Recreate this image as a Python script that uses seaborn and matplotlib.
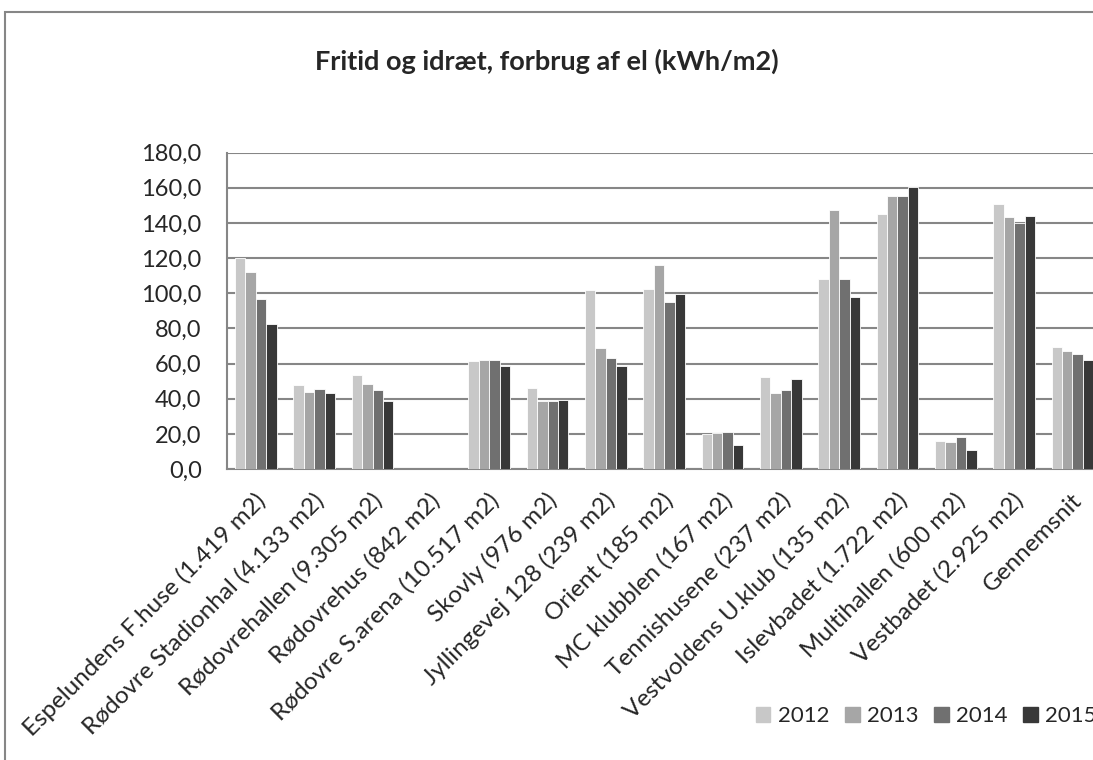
import numpy as np
import pandas as pd
import matplotlib
matplotlib.use("Agg")
import matplotlib.pyplot as plt
import matplotlib.transforms as mtransforms
import seaborn as sns
from matplotlib.ticker import FuncFormatter, FixedLocator
from matplotlib.patches import Rectangle

# Data (kWh/m2)
sites = [
    "Espelundens F.huse (1.419 m2)",
    "Rødovre Stadionhal (4.133 m2)",
    "Rødovrehallen (9.305 m2)",
    "Rødovrehus (842 m2)",
    "Rødovre S.arena (10.517 m2)",
    "Skovly (976 m2)",
    "Jyllingevej 128 (239 m2)",
    "Orient (185 m2)",
    "MC klubblen (167 m2)",
    "Tennishusene (237 m2)",
    "Vestvoldens U.klub (135 m2)",
    "Islevbadet (1.722 m2)",
    "Multihallen (600 m2)",
    "Vestbadet (2.925 m2)",
    "Gennemsnit",
]
years = ["2012", "2013", "2014", "2015"]
v2012 = [120.3, 47.6, 53.3, np.nan, 61.5, 46.1, 101.9, 102.4, 19.9, 52.4, 108.0, 145.1, 16.1, 150.6, 69.6]
v2013 = [112.0, 44.0, 48.2, np.nan, 62.0, 38.7, 68.7, 116.1, 20.3, 43.3, 147.4, 155.4, 15.2, 143.2, 67.2]
v2014 = [96.6, 45.4, 44.8, np.nan, 62.2, 38.9, 63.0, 95.2, 21.1, 45.0, 108.3, 155.4, 18.0, 140.2, 65.3]
v2015 = [82.3, 43.1, 38.9, np.nan, 58.6, 39.0, 58.8, 99.6, 13.7, 51.0, 98.1, 160.3, 10.8, 144.0, 62.0]

colors = ["#c8c8c8", "#a6a6a6", "#707070", "#383838"]

df = pd.DataFrame({"site": sites, "2012": v2012, "2013": v2013, "2014": v2014, "2015": v2015})
long = df.melt(id_vars="site", var_name="year", value_name="kwh").dropna()

sns.set_style("white")
plt.rcParams["font.family"] = ["Lato", "DejaVu Sans"]

fig = plt.figure(figsize=(10.93, 7.6), dpi=100)
# plot area runs past the right edge, like the cropped original
ax = fig.add_axes([0.2074, 0.3829, 0.8005, 0.4162])

sns.barplot(
    data=long, x="site", y="kwh", hue="year",
    order=sites, hue_order=years, palette=colors,
    width=0.715, gap=0, errorbar=None, ax=ax,
    edgecolor="white", linewidth=0.6, legend=False, zorder=3,
)

ax.set_xlim(-0.5, len(sites) - 0.5)
ax.set_ylim(0, 180)
ax.set_yticks(np.arange(0, 181, 20))
ax.yaxis.set_major_formatter(FuncFormatter(lambda v, p: f"{v:.1f}".replace(".", ",")))
ax.grid(axis="y", color="#868686", linewidth=1.5, zorder=0)
ax.set_axisbelow(True)

for s in ["top", "right"]:
    ax.spines[s].set_visible(False)
for s in ["left", "bottom"]:
    ax.spines[s].set_color("#868686")
    ax.spines[s].set_linewidth(1.5)

ax.set_xlabel("")
ax.set_ylabel("")
ax.set_xticks(range(len(sites)))
ax.set_xticklabels(sites, rotation=45, ha="right", va="center",
                   rotation_mode="anchor", fontsize=17.5)
ax.tick_params(axis="x", length=0, pad=20)
shift = mtransforms.ScaledTranslation(6 / 100, 0, fig.dpi_scale_trans)
for lbl in ax.get_xticklabels():
    lbl.set_transform(lbl.get_transform() + shift)
ax.xaxis.set_minor_locator(FixedLocator(np.arange(-0.5, len(sites), 1.0)))
ax.tick_params(axis="x", which="minor", length=5, width=1.5, color="#868686", direction="out")
ax.tick_params(axis="y", length=6, width=1.5, color="#868686", direction="out", labelsize=17, pad=12)

fig.text(0.5, 1 - 61 / 760, "Fritid og idræt, forbrug af el (kWh/m2)",
         ha="center", va="center", fontsize=19.5, fontweight="bold")

# legend along the bottom, cut off on the right as in the original
handles = [Rectangle((0, 0), 1, 1, color=c) for c in colors]
fig.legend(handles, years, loc="center left", bbox_to_anchor=(736 / 1093, 1 - 716 / 760),
           ncol=4, frameon=False, fontsize=16, handlelength=0.65, handleheight=0.65,
           handletextpad=0.32, columnspacing=0.72)

# outer chart border
fig.patches.append(Rectangle((5 / 1093, -0.1), 1.2, 1 - 12 / 760 + 0.1, transform=fig.transFigure,
                             fill=False, edgecolor="#868686", linewidth=1.5))

fig.savefig("out.png", dpi=100)
